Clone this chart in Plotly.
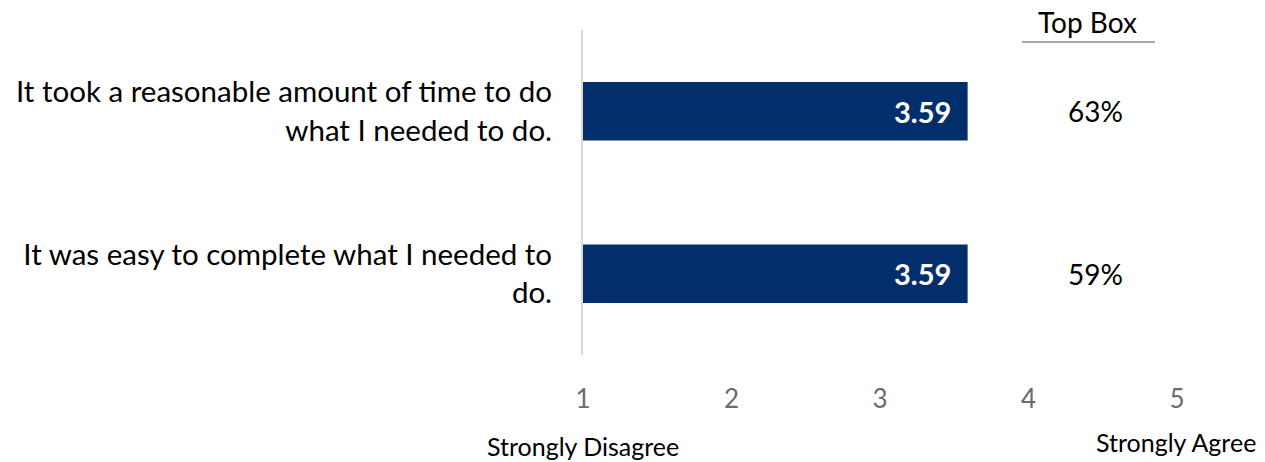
import plotly.graph_objects as go

# Survey statements and their mean scores (1 = Strongly Disagree, 5 = Strongly Agree)
statements = [
    "It took a reasonable amount of time to do<br>what I needed to do.",
    "It was easy to complete what I needed to<br>do.",
]
mean_scores = [3.59, 3.59]
top_box = ["63%", "59%"]
scale_ticks = [1, 2, 3, 4, 5]
scale_low_label = "Strongly Disagree"
scale_high_label = "Strongly Agree"

FONT = "Lato, 'Source Sans Pro', 'Noto Sans', sans-serif"
BAR_COLOR = "#022f6b"

fig = go.Figure()
fig.add_trace(go.Bar(
    y=statements,
    x=[s - 1 for s in mean_scores],
    base=1,
    orientation="h",
    width=0.36,
    marker=dict(color=BAR_COLOR, line=dict(width=0)),
    hoverinfo="skip",
))

# Mean score printed inside the end of each bar
for stmt, score in zip(statements, mean_scores):
    fig.add_annotation(
        x=score, xref="x", y=stmt, yref="y", xshift=-15,
        text=f"<b>{score:.2f}</b>", showarrow=False,
        xanchor="right", yanchor="middle",
        font=dict(family=FONT, size=29, color="white"),
    )

# Top Box column
for stmt, pct in zip(statements, top_box):
    fig.add_annotation(
        x=4.45, xref="x", y=stmt, yref="y",
        text=pct, showarrow=False, xanchor="center", yanchor="middle",
        font=dict(family=FONT, size=28, color="#000000"),
    )

fig.add_annotation(
    x=4.40, xref="x", y=1.0, yref="paper", yshift=8,
    text="Top Box", showarrow=False, xanchor="center", yanchor="middle",
    font=dict(family=FONT, size=28, color="#000000"),
)
fig.add_shape(
    type="line", xref="x", yref="paper",
    x0=3.956, x1=4.852,
    y0=(355 - 42) / 325, y1=(355 - 42) / 325,
    line=dict(color="#a6a6a6", width=2),
)

# Scale end labels under the axis
fig.add_annotation(
    x=1, xref="x", y=0, yref="paper", yshift=-91,
    text=scale_low_label, showarrow=False, xanchor="center", yanchor="middle",
    font=dict(family=FONT, size=25, color="#000000"),
)
fig.add_annotation(
    x=4.99, xref="x", y=0, yref="paper", yshift=-87,
    text=scale_high_label, showarrow=False, xanchor="center", yanchor="middle",
    font=dict(family=FONT, size=25, color="#000000"),
)

fig.update_layout(
    width=1265, height=462,
    margin=dict(l=583, r=88, t=30, b=107),
    plot_bgcolor="white", paper_bgcolor="white",
    showlegend=False,
    font=dict(family=FONT),
    xaxis=dict(
        range=[1, 5], tickvals=scale_ticks, showgrid=False, zeroline=False,
        showline=False, ticks="", ticklabelstandoff=26,
        tickfont=dict(family=FONT, size=26, color="#6b6b6b"),
    ),
    yaxis=dict(
        categoryorder="array", categoryarray=statements,
        range=[1.5, -0.5],
        showgrid=False, zeroline=False, showline=True,
        linecolor="#d9d9d9", linewidth=2, ticks="", ticklabelstandoff=23,
        tickfont=dict(family=FONT, size=29.5, color="#000000"),
    ),
)

fig.write_html("out.html")
